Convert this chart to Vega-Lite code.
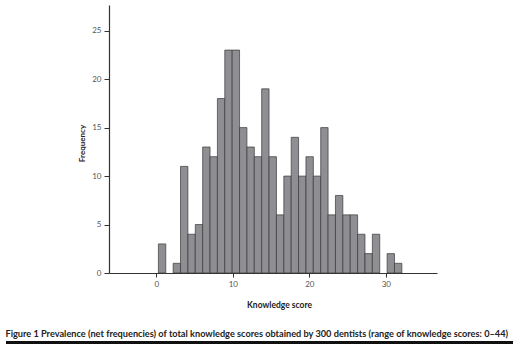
{
  "$schema": "https://vega.github.io/schema/vega-lite/v6.json",
  "width": 328,
  "height": 268,
  "autosize": {"type": "none"},
  "padding": {"left": 109, "top": 5, "right": 83, "bottom": 79},
  "background": "white",
  "config": {
    "view": {"stroke": null},
    "font": "Lato"
  },
  "title": {
    "text": "Figure 1 Prevalence (net frequencies) of total knowledge scores obtained by 300 dentists (range of knowledge scores: 0–44)",
    "orient": "bottom",
    "anchor": "start",
    "dx": 0,
    "offset": -14,
    "font": "Lato",
    "fontSize": 9.2,
    "fontWeight": "bold",
    "color": "#222222"
  },
  "data": {
    "values": [
      {"lo": 0.26, "hi": 1.225, "n": 3},
      {"lo": 2.19, "hi": 3.155, "n": 1},
      {"lo": 3.155, "hi": 4.12, "n": 11},
      {"lo": 4.12, "hi": 5.085, "n": 4},
      {"lo": 5.085, "hi": 6.05, "n": 5},
      {"lo": 6.05, "hi": 7.015, "n": 13},
      {"lo": 7.015, "hi": 7.98, "n": 12},
      {"lo": 7.98, "hi": 8.945, "n": 18},
      {"lo": 8.945, "hi": 9.91, "n": 23},
      {"lo": 9.91, "hi": 10.875, "n": 23},
      {"lo": 10.875, "hi": 11.84, "n": 15},
      {"lo": 11.84, "hi": 12.805, "n": 13},
      {"lo": 12.805, "hi": 13.77, "n": 12},
      {"lo": 13.77, "hi": 14.735, "n": 19},
      {"lo": 14.735, "hi": 15.7, "n": 12},
      {"lo": 15.7, "hi": 16.665, "n": 6},
      {"lo": 16.665, "hi": 17.63, "n": 10},
      {"lo": 17.63, "hi": 18.595, "n": 14},
      {"lo": 18.595, "hi": 19.56, "n": 10},
      {"lo": 19.56, "hi": 20.525, "n": 12},
      {"lo": 20.525, "hi": 21.49, "n": 10},
      {"lo": 21.49, "hi": 22.455, "n": 15},
      {"lo": 22.455, "hi": 23.42, "n": 6},
      {"lo": 23.42, "hi": 24.385, "n": 8},
      {"lo": 24.385, "hi": 25.35, "n": 6},
      {"lo": 25.35, "hi": 26.315, "n": 6},
      {"lo": 26.315, "hi": 27.28, "n": 4},
      {"lo": 27.28, "hi": 28.245, "n": 2},
      {"lo": 28.245, "hi": 29.21, "n": 4},
      {"lo": 30.175, "hi": 31.14, "n": 2},
      {"lo": 31.14, "hi": 32.105, "n": 1}
    ]
  },
  "layer": [
    {
      "mark": {"type": "rect", "fill": "#8e8e93", "stroke": "#3a3a3a", "strokeWidth": 0.7},
      "encoding": {
        "x": {
          "field": "lo", "type": "quantitative",
          "scale": {"domain": [-6.2, 36.7], "nice": false, "zero": false},
          "axis": {
            "values": [0, 10, 20, 30],
            "title": "Knowledge score",
            "titleFont": "Lato", "titleFontSize": 8.5, "titleFontWeight": "bold", "titleColor": "#222222",
            "titleX": 170, "titleY": 31, "titleBaseline": "middle",
            "labelFont": "Lato", "labelFontSize": 8, "labelColor": "#555555", "labelPadding": 3,
            "tickSize": 4, "tickColor": "#333333", "domainColor": "#333333", "domainWidth": 1.2,
            "grid": false
          }
        },
        "x2": {"field": "hi"},
        "y": {
          "field": "n", "type": "quantitative",
          "scale": {"domain": [0, 27.65], "nice": false},
          "axis": {
            "values": [0, 5, 10, 15, 20, 25],
            "title": "Frequency",
            "titleFont": "Lato", "titleFontSize": 8, "titleFontWeight": "bold", "titleColor": "#222222",
            "titleX": -23, "titleY": 138, "titleBaseline": "bottom",
            "labelFont": "Lato", "labelFontSize": 8, "labelColor": "#555555", "labelPadding": 3,
            "tickSize": 5, "tickColor": "#333333", "domainColor": "#333333", "domainWidth": 1.2,
            "grid": false
          }
        },
        "y2": {"datum": 0}
      }
    },
    {
      "mark": {"type": "rule", "stroke": "#111111", "strokeWidth": 2.2, "clip": false},
      "encoding": {
        "x": {"datum": -19.6},
        "x2": {"datum": 46.6},
        "y": {"datum": -7.2}
      }
    }
  ]
}
